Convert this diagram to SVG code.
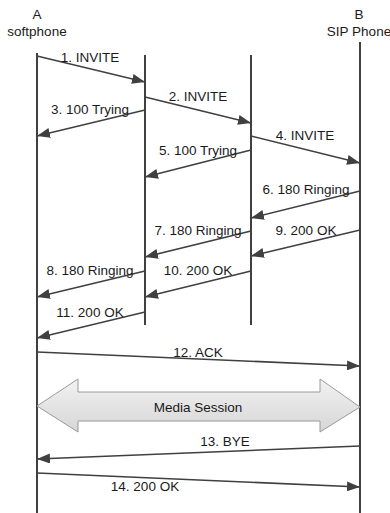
<svg xmlns="http://www.w3.org/2000/svg" width="390" height="513" viewBox="0 0 390 513">
<defs>
<marker id="ah" markerUnits="userSpaceOnUse" markerWidth="14" markerHeight="10" refX="13" refY="5" orient="auto">
<path d="M0,0 L13,5 L0,10 z" fill="#404040"/>
</marker>
<linearGradient id="mg" x1="0" y1="0" x2="0" y2="1">
<stop offset="0" stop-color="#f2f2f2"/>
<stop offset="0.5" stop-color="#e4e4e4"/>
<stop offset="1" stop-color="#d6d6d6"/>
</linearGradient>
</defs>
<style>
text{font-family:"Liberation Sans",Arial,sans-serif;font-size:13.5px;fill:#1a1a1a;text-anchor:middle}
.life{stroke:#404040;stroke-width:2;fill:none}
.msg{stroke:#404040;stroke-width:1.6;fill:none;marker-end:url(#ah)}
</style>
<rect width="390" height="513" fill="#ffffff"/>
<g id="nodeA">
<text x="37" y="19">A</text>
<text x="37" y="36">softphone</text>
<line class="life" x1="37" y1="53" x2="37" y2="513"/>
</g>
<g id="proxy1">
<line class="life" x1="145" y1="55" x2="145" y2="325"/>
</g>
<g id="proxy2">
<line class="life" x1="251" y1="55" x2="251" y2="325"/>
</g>
<g id="nodeB">
<text x="359" y="19">B</text>
<text x="359" y="36">SIP Phone</text>
<line class="life" x1="360" y1="42" x2="360" y2="513"/>
</g>
<g id="media">
<path d="M37,406 L78,379 L78,392 L320,392 L320,379 L360,407 L320,432 L320,421 L78,421 L78,432 Z" fill="url(#mg)" stroke="#9a9a9a" stroke-width="1"/>
<text x="198" y="412">Media Session</text>
</g>
<g id="connectors">
<line class="msg" x1="37" y1="56" x2="145" y2="82"/>
<line class="msg" x1="145" y1="97" x2="251" y2="123"/>
<line class="msg" x1="145" y1="110" x2="37" y2="136"/>
<line class="msg" x1="251" y1="136" x2="360" y2="163"/>
<line class="msg" x1="251" y1="150" x2="145" y2="177"/>
<line class="msg" x1="360" y1="191" x2="251" y2="218"/>
<line class="msg" x1="251" y1="231" x2="145" y2="257"/>
<line class="msg" x1="360" y1="230" x2="251" y2="256"/>
<line class="msg" x1="145" y1="271" x2="37" y2="297"/>
<line class="msg" x1="251" y1="271" x2="145" y2="297"/>
<line class="msg" x1="145" y1="312" x2="37" y2="338"/>
<line class="msg" x1="37" y1="352" x2="360" y2="366"/>
<line class="msg" x1="360" y1="446" x2="37" y2="459"/>
<line class="msg" x1="37" y1="473" x2="360" y2="487"/>
</g>
<g id="labels">
<text x="90" y="62">1. INVITE</text>
<text x="198" y="101">2. INVITE</text>
<text x="90" y="114">3. 100 Trying</text>
<text x="305" y="140">4. INVITE</text>
<text x="198" y="155">5. 100 Trying</text>
<text x="306" y="194">6. 180 Ringing</text>
<text x="198" y="235">7. 180 Ringing</text>
<text x="306" y="235">9. 200 OK</text>
<text x="90" y="275">8. 180 Ringing</text>
<text x="198" y="275">10. 200 OK</text>
<text x="90" y="317">11. 200 OK</text>
<text x="198" y="357">12. ACK</text>
<text x="225" y="446">13. BYE</text>
<text x="145" y="491">14. 200 OK</text>
</g>
</svg>
